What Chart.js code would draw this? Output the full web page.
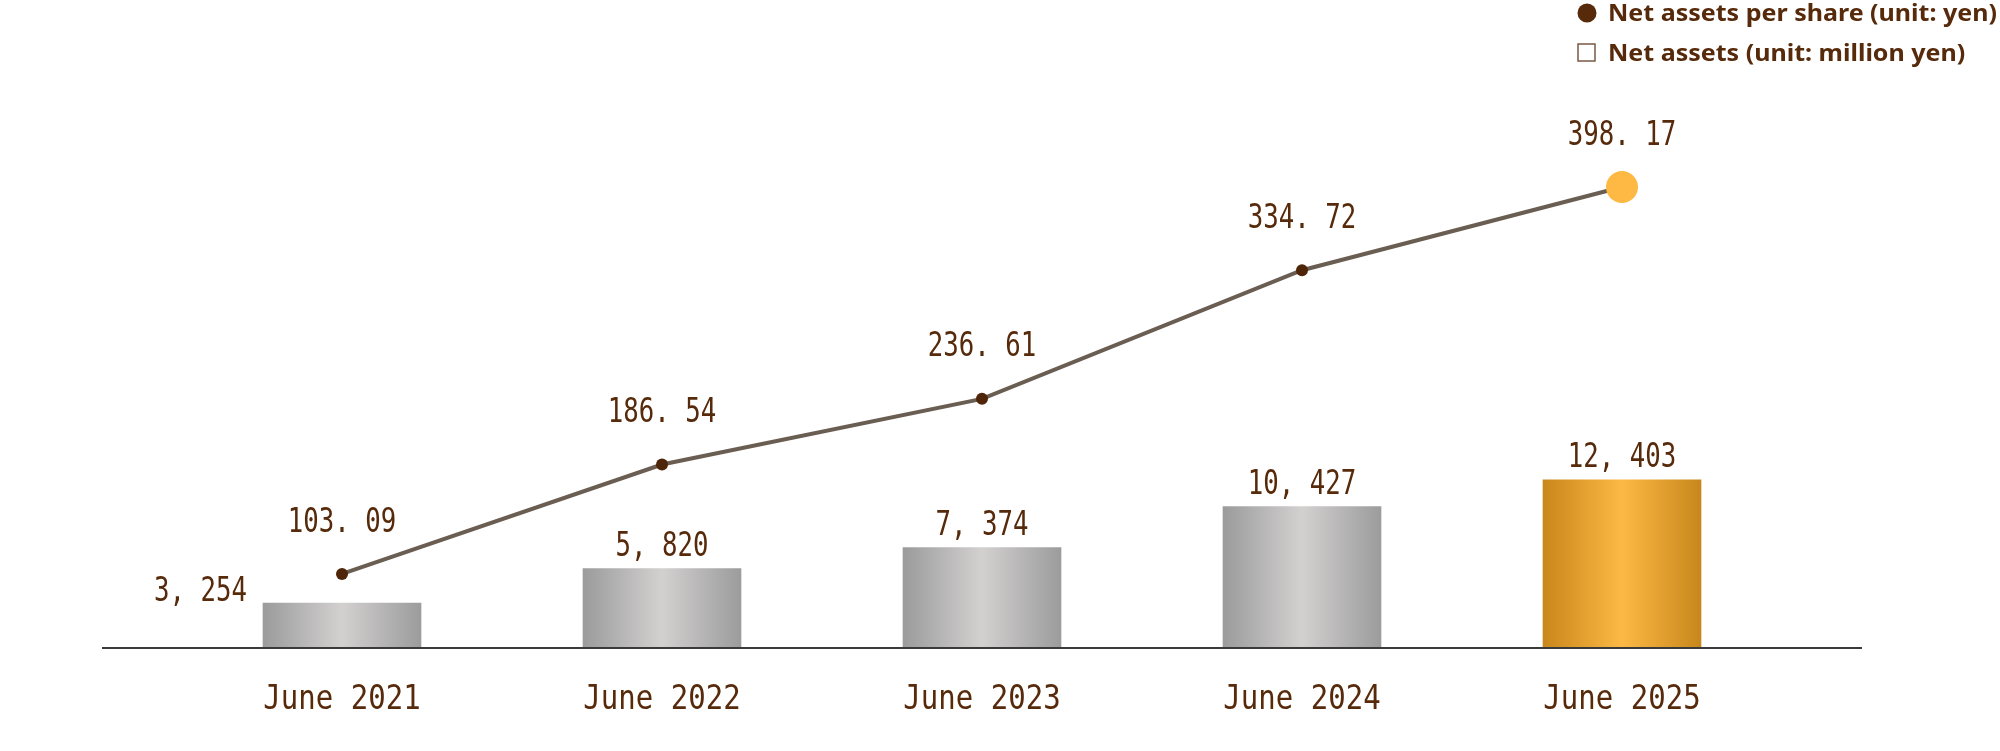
<!DOCTYPE html>
<html>
<head>
<meta charset="utf-8">
<script src="https://cdn.jsdelivr.net/npm/chart.js@4.4.1/dist/chart.umd.min.js"></script>
<style>
  html, body { margin: 0; padding: 0; background: #fff; }
  canvas { display: block; }
</style>
</head>
<body>
<canvas id="myChart" width="2000" height="751"></canvas>
<script>
const ctx = document.getElementById('myChart');

// data
const labels = ['June 2021', 'June 2022', 'June 2023', 'June 2024', 'June 2025'];
const netAssets = [3254, 5820, 7374, 10427, 12403];
const perShare = [103.09, 186.54, 236.61, 334.72, 398.17];
const legendLabels = ['Net assets per share (unit: yen)', 'Net assets (unit: million yen)'];

const brown = '#562a0b';
const lastIdx = netAssets.length - 1;

const fmtAssets = v => v.toLocaleString('en-US').replace(',', ', ');
const fmtShare = v => v.toFixed(2).replace('.', '. ');

// horizontal metallic gradient for each bar
function barFill(context) {
  const chart = context.chart;
  const { chartArea, scales } = chart;
  if (!chartArea || !scales.x) return '#bdbdbd';
  const x = scales.x.getPixelForValue(context.dataIndex);
  const g = chart.ctx.createLinearGradient(x - 79, 0, x + 79, 0);
  if (context.dataIndex === lastIdx) {
    g.addColorStop(0, '#c9861b');
    g.addColorStop(0.5, '#fdb944');
    g.addColorStop(1, '#c8871c');
  } else {
    g.addColorStop(0, '#9b9b9b');
    g.addColorStop(0.5, '#d3d0d0');
    g.addColorStop(1, '#9c9c9c');
  }
  return g;
}

function monoText(c, text, x, y, size, sx, align) {
  c.save();
  c.font = size + 'px "DejaVu Sans Mono"';
  c.textAlign = align || 'center';
  c.textBaseline = 'middle';
  c.fillStyle = brown;
  c.translate(x, y);
  c.scale(sx, 1);
  c.fillText(text, 0, 0);
  c.restore();
}

const labelPlugin = {
  id: 'labelPlugin',
  afterDatasetsDraw(chart) {
    const c = chart.ctx;
    const area = chart.chartArea;
    const xs = chart.scales.x;

    // baseline
    c.save();
    c.strokeStyle = '#3a3a3a';
    c.lineWidth = 2;
    c.beginPath();
    c.moveTo(area.left - 80, area.bottom + 1);
    c.lineTo(area.right + 80, area.bottom + 1);
    c.stroke();
    c.restore();

    // bar labels
    chart.getDatasetMeta(0).data.forEach((bar, i) => {
      const txt = fmtAssets(netAssets[i]);
      if (i === 0) {
        monoText(c, txt, bar.x - bar.width / 2 - 16, bar.y - 11, 33, 0.78, 'right');
      } else {
        monoText(c, txt, bar.x, bar.y - 21, 33, 0.78);
      }
    });

    // line labels
    chart.getDatasetMeta(1).data.forEach((pt, i) => {
      monoText(c, fmtShare(perShare[i]), pt.x, pt.y - 51, 33, 0.78);
    });

    // category labels
    labels.forEach((lab, i) => {
      monoText(c, lab, xs.getPixelForValue(i), area.bottom + 53, 33, 0.88);
    });

    // legend
    c.save();
    c.fillStyle = brown;
    c.beginPath();
    c.arc(1587, 13, 9.5, 0, Math.PI * 2);
    c.fill();
    c.strokeStyle = '#7a5a45';
    c.lineWidth = 1.5;
    c.strokeRect(1578, 44, 17, 17);
    c.font = 'bold 23px "Noto Sans"';
    c.textAlign = 'left';
    c.textBaseline = 'middle';
    const sx = 389 / c.measureText(legendLabels[0]).width;
    [14, 54].forEach((y, i) => {
      c.save();
      c.translate(1608, y);
      c.scale(sx, 1);
      c.fillText(legendLabels[i], 0, 0);
      c.restore();
    });
    c.restore();
  }
};

new Chart(ctx, {
  type: 'bar',
  data: {
    labels: labels,
    datasets: [{
      type: 'bar',
      label: 'Net assets (unit: million yen)',
      data: netAssets,
      backgroundColor: barFill,
      borderWidth: 0,
      barThickness: 158,
      yAxisID: 'y',
      order: 2
    }, {
      type: 'line',
      label: 'Net assets per share (unit: yen)',
      data: perShare,
      borderColor: '#6a5d52',
      borderWidth: 4,
      tension: 0,
      fill: false,
      pointRadius: c => c.dataIndex === lastIdx ? 16 : 6,
      pointBackgroundColor: c => c.dataIndex === lastIdx ? '#fdb944' : '#4e2508',
      pointBorderWidth: 0,
      yAxisID: 'y2',
      order: 1
    }]
  },
  options: {
    responsive: false,
    animation: false,
    layout: { padding: { left: 182, right: 218, top: 108, bottom: 104 } },
    plugins: {
      legend: { display: false },
      tooltip: { enabled: false }
    },
    scales: {
      x: { display: false, offset: true },
      y: { display: false, min: 0, max: 40000 },
      y2: { display: false, min: 47.4, max: 458.4 }
    }
  },
  plugins: [labelPlugin]
});
</script>
</body>
</html>
